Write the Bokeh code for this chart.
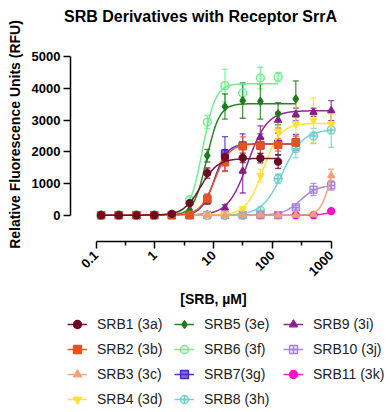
import math
import numpy as np
from bokeh.plotting import figure
from bokeh.models import (ColumnDataSource, Whisker, TeeHead, Legend, LegendItem, Label,
                          FixedTicker, CustomJSTickFormatter, Range1d)
from bokeh.embed import file_html
from bokeh.resources import INLINE

# ---------------- data ----------------
conc = [0.122, 0.244, 0.488, 0.977, 1.95, 3.91, 7.81, 15.6, 31.25, 62.5, 125, 250, 500, 1000]

names = ["SRB1 (3a)", "SRB2 (3b)", "SRB3 (3c)", "SRB4 (3d)", "SRB5 (3e)", "SRB6 (3f)",
         "SRB7(3g)", "SRB8 (3h)", "SRB9 (3i)", "SRB10 (3j)", "SRB11 (3k)"]

srb1 = [0, 0, 0, 0, 40, 380, 1330, 1830, 1810, 1800, 1690, None, None, None]
srb2 = [0, 0, 0, 0, 0, 10, 520, 1670, 2170, 2200, 2220, 2300, None, None]
srb3 = [0, 0, 0, 0, 0, 0, 0, 0, 0, 0, 0, 0, 20, 1250]
srb4 = [0, 0, 0, 0, 0, 0, 0, 30, 200, 1250, 2650, 2880, 3000, 2880]
srb5 = [0, 0, 0, 0, 30, 170, 1880, 3430, 3620, 3590, 3200, 3670, None, None]
srb6 = [0, 0, 0, 0, 10, 490, 2940, 4090, 3860, 4330, 4360, None, None, None]
srb7 = [0, 0, 0, 0, 0, 0, 490, 1940, 2200, 2200, 2250, 2300, None, None]
srb8 = [0, 0, 0, 0, 0, 0, 0, 0, 0, 150, 1150, 2100, 2500, 2690]
srb9 = [0, 0, 0, 0, 0, 0, 20, 230, 1390, 2460, 3000, 3180, 3250, 3300]
srb10 = [0, 0, 0, 0, 0, 0, 0, 0, 0, 0, 0, 250, 810, 940]
srb11 = [0, 0, 0, 0, 0, 0, 0, 0, 0, 0, 0, 0, 0, 130]

err1 = [0, 0, 0, 0, 0, 60, 160, 240, 150, 150, 210, None, None, None]
err2 = [0, 0, 0, 0, 0, 0, 150, 290, 300, 250, 200, 200, None, None]
err3 = [0, 0, 0, 0, 0, 0, 0, 0, 0, 0, 0, 0, 0, 200]
err4 = [0, 0, 0, 0, 0, 0, 0, 0, 0, 200, 350, 820, 700, 315]
err5 = [0, 0, 0, 0, 0, 0, 200, 395, 560, 560, 350, 570, None, None]
err6 = [0, 0, 0, 0, 0, 80, 210, 510, 280, 340, 150, None, None, None]
err7 = [0, 0, 0, 0, 0, 0, 150, 540, 370, 370, 340, 250, None, None]
err8 = [0, 0, 0, 0, 0, 0, 0, 0, 0, 0, 150, 290, 240, 550]
err9 = [0, 0, 0, 0, 0, 0, 0, 100, 690, 360, 250, 200, 130, 315]
err10 = [0, 0, 0, 0, 0, 0, 0, 0, 0, 0, 0, 60, 195, 150]
err11 = [0, 0, 0, 0, 0, 0, 0, 0, 0, 0, 0, 0, 0, 0]

# four-parameter logistic fit parameters
fit_top = [1790, 2250, 2500, 2900, 3520, 4150, 2250, 2700, 3300, 950, 250]
fit_ec50 = [6.0, 10.5, 1000, 70, 7.6, 6.5, 10.3, 150, 38, 300, 1100]
fit_hill = [3.0, 3.5, 5.0, 3.0, 4.0, 4.0, 4.0, 2.5, 2.6, 3.0, 4.0]

y_ticks = [0, 1000, 2000, 3000, 4000, 5000]
x_ticks = [0.1, 1, 10, 100, 1000]
x_minor = [0.316, 3.16, 31.6, 316]

# ---------------- styles ----------------
colors = ["#6E0B22", "#E8521C", "#F3A07A", "#FFE135", "#1F7A1F", "#6EEB8C",
          "#4B26C8", "#6FCFCF", "#8A1C8C", "#A580DC", "#FF13C8"]
markers = ["circle", "square", "triangle", "inverted_triangle", "diamond", "circle",
           "square", "circle_cross", "triangle", "square_cross", "circle"]
fill_alphas = [1, 1, 1, 1, 1, 0.25, 0.7, 0.2, 1, 0.2, 1]
msizes = [7, 7, 7, 7, 8, 8, 7, 8, 7, 7, 7]

values = [srb1, srb2, srb3, srb4, srb5, srb6, srb7, srb8, srb9, srb10, srb11]
errors = [err1, err2, err3, err4, err5, err6, err7, err8, err9, err10, err11]

FONT = "Liberation Sans"
W, H = 390, 412

# pixel geometry of the plot (page pixels)
PX_DEC = 58.8          # pixels per decade on x
X01 = 95.5             # pixel of x = 0.1
PY_UNIT = 0.03168      # pixels per RFU
Y0 = 214.7             # pixel of y = 0

def xval(px):
    return 0.1 * 10 ** ((px - X01) / PX_DEC)

def yval(py):
    return (Y0 - py) / PY_UNIT

p = figure(width=W, height=H, x_axis_type="log",
           x_range=Range1d(xval(0), xval(W)), y_range=Range1d(yval(H), yval(0)),
           output_backend="svg", toolbar_location=None,
           min_border=0, min_border_left=0, min_border_right=0,
           min_border_top=0, min_border_bottom=0)
p.outline_line_color = None
p.xgrid.visible = False
p.ygrid.visible = False

# y axis
p.yaxis.fixed_location = xval(70)
p.yaxis.ticker = FixedTicker(ticks=y_ticks)
p.yaxis.bounds = (0, 5000)
p.yaxis.major_tick_out = 7
p.yaxis.major_tick_in = 0
p.yaxis.minor_tick_out = 0
p.yaxis.minor_tick_in = 0
p.yaxis.major_label_standoff = 3
p.yaxis.axis_line_width = 1.5
p.yaxis.major_tick_line_width = 1.5
p.yaxis.major_label_text_font = FONT
p.yaxis.major_label_text_font_style = "bold"
p.yaxis.major_label_text_font_size = "13px"
p.yaxis.major_label_text_color = "black"

# x axis
p.xaxis.fixed_location = yval(240.5)
p.xaxis.ticker = FixedTicker(ticks=x_ticks, minor_ticks=x_minor)
p.xaxis.bounds = (0.1, 1000)
p.xaxis.formatter = CustomJSTickFormatter(code="return String(tick);")
p.xaxis.major_label_orientation = math.pi / 4
p.xaxis.major_tick_out = 7
p.xaxis.major_tick_in = 0
p.xaxis.minor_tick_out = 4
p.xaxis.minor_tick_in = 0
p.xaxis.axis_line_width = 1.5
p.xaxis.major_tick_line_width = 1.5
p.xaxis.minor_tick_line_width = 1.5
p.xaxis.major_label_standoff = 5
p.xaxis.major_label_text_font = FONT
p.xaxis.major_label_text_font_style = "bold"
p.xaxis.major_label_text_font_size = "13px"
p.xaxis.major_label_text_color = "black"

line_rs = [None] * 11
scat_rs = [None] * 11
for i in reversed(range(11)):
    xs = [c for c, v in zip(conc, values[i]) if v is not None]
    ys = [v for v in values[i] if v is not None]
    es = [e for e, v in zip(errors[i], values[i]) if v is not None]
    # fitted curve
    cx = np.logspace(math.log10(xs[0]), math.log10(xs[-1]), 240)
    cy = fit_top[i] / (1.0 + (fit_ec50[i] / cx) ** fit_hill[i])
    line_rs[i] = p.line(cx, cy, line_color=colors[i], line_width=1.5, line_alpha=0.95)
    # error bars
    wx = [x for x, e in zip(xs, es) if e]
    wy = [y for y, e in zip(ys, es) if e]
    we = [e for e in es if e]
    if wx:
        wsrc = ColumnDataSource(dict(base=wx, upper=[a + b for a, b in zip(wy, we)],
                                     lower=[a - b for a, b in zip(wy, we)]))
        wk = Whisker(base="base", upper="upper", lower="lower", source=wsrc,
                     line_color=colors[i], line_width=1.3, line_alpha=0.8,
                     upper_head=TeeHead(size=6, line_color=colors[i], line_width=1.3, line_alpha=0.8),
                     lower_head=TeeHead(size=6, line_color=colors[i], line_width=1.3, line_alpha=0.8))
        p.add_layout(wk)
    scat_rs[i] = p.scatter(xs, ys, marker=markers[i], size=msizes[i],
                           fill_color=colors[i], fill_alpha=fill_alphas[i],
                           line_color=colors[i], line_width=1.3)

# titles (inside the full-canvas frame)
p.add_layout(Label(x=xval(200), y=yval(16), text="SRB Derivatives with Receptor SrrA",
                   text_align="center", text_baseline="alphabetic", text_font=FONT,
                   text_font_style="bold", text_font_size="16px", text_color="black"))
p.add_layout(Label(x=xval(14), y=yval(134), angle=math.pi / 2,
                   text="Relative Fluorescence Units (RFU)", text_align="center",
                   text_baseline="middle", text_font=FONT, text_font_style="bold",
                   text_font_size="14px", text_color="black"))
p.add_layout(Label(x=xval(213), y=yval(298), text="[SRB, µM]", text_align="center",
                   text_baseline="middle", text_font=FONT, text_font_style="bold",
                   text_font_size="14px", text_color="black"))

# legend in three columns
cols = [(range(0, 4), 67), (range(4, 8), 174), (range(8, 11), 283)]
for rng, gx in cols:
    items = [LegendItem(label=names[k], renderers=[line_rs[k], scat_rs[k]]) for k in rng]
    n = len(items)
    height = n * 20 + (n - 1) * 5
    bottom = 314 + height
    leg = Legend(items=items, location=(gx, H - bottom), orientation="vertical",
                 padding=0, margin=0, spacing=5, glyph_width=20, glyph_height=20,
                 label_height=20, label_standoff=10,
                 label_text_font=FONT, label_text_font_size="14px",
                 label_text_color="#222222",
                 border_line_alpha=0, background_fill_alpha=0)
    p.add_layout(leg)

open("out.html", "w").write(file_html(p, INLINE))
